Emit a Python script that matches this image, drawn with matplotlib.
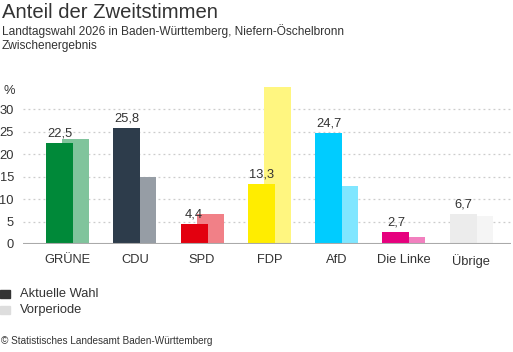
import matplotlib
matplotlib.use("Agg")
import matplotlib.pyplot as plt
from matplotlib.patches import Rectangle
import matplotlib.transforms as mtransforms

parties = ["GRÜNE", "CDU", "SPD", "FDP", "AfD", "Die Linke", "Übrige"]
current = [22.5, 25.8, 4.4, 13.3, 24.7, 2.7, 6.7]
previous = [23.3, 14.9, 6.7, 34.9, 12.9, 1.6, 6.3]
current_labels = ["22,5", "25,8", "4,4", "13,3", "24,7", "2,7", "6,7"]
cur_colors = ["#008939", "#2d3c4b", "#e3000f", "#ffed00", "#00ccff", "#e6007e", "#ececec"]
prev_colors = ["#80c49c", "#969da5", "#f18087", "#fff680", "#80e6ff", "#f280bf", "#f5f5f5"]
yticks = [0, 5, 10, 15, 20, 25, 30]

W, H = 513, 352
plt.rcParams['font.family'] = ['Liberation Sans', 'DejaVu Sans']
fig = plt.figure(figsize=(W / 100, H / 100), dpi=100)

def px(x0, y0, x1, y1):
    return [x0 / W, 1 - y1 / H, (x1 - x0) / W, (y1 - y0) / H]

ax = fig.add_axes(px(23, 84, 511, 244))
ax.set_xlim(-0.661, 6.59)
ax.set_ylim(0, 160 / 4.5)

bw = 0.401
off = 0.119
x = list(range(len(parties)))
ax.bar([i + off for i in x], previous, width=bw, color=prev_colors, zorder=2)
ax.bar([i - off for i in x], current, width=bw, color=cur_colors, zorder=3)
for i, (v, lab) in enumerate(zip(current, current_labels)):
    ax.text(i - off, v + 0.8, lab, ha="center", va="bottom", fontsize=9.3, color="#333333", zorder=4)

for t in yticks[1:]:
    ax.axhline(t, color="#cccccc", linestyle=(0, (1.5, 2.5)), linewidth=0.9, zorder=1)
ax.axhline(0, color="#aaaaaa", linewidth=1.5, zorder=4)

for s in ax.spines.values():
    s.set_visible(False)
ax.set_yticks(yticks)
ax.set_yticklabels([str(t) for t in yticks], fontsize=9.3, color="#333333")
ax.tick_params(axis="y", length=0)
ax.set_xticks(x)
ax.set_xticklabels(parties, fontsize=9.3, color="#333333")
ax.tick_params(axis="x", length=0, pad=7)
ytrans = mtransforms.blended_transform_factory(fig.transFigure, ax.transData)
for lbl in ax.get_yticklabels():
    lbl.set_transform(ytrans)
    lbl.set_horizontalalignment("right")
    lbl.set_x(14 / W)

fig.text(4 / W, 1 - 91 / H, "%", fontsize=9.3, color="#333333", va="center", ha="left")

fig.text(2 / W, 1 - 13 / H, "Anteil der Zweitstimmen", fontsize=14.6, color="#333333", va="center", ha="left")
fig.text(2 / W, 1 - 31 / H, "Landtagswahl 2026 in Baden-Württemberg, Niefern-Öschelbronn", fontsize=8.55, color="#333333", va="center", ha="left")
fig.text(2 / W, 1 - 46 / H, "Zwischenergebnis", fontsize=8.55, color="#333333", va="center", ha="left")

fig.patches.append(Rectangle((0, 1 - 298 / H), 10 / W, 8 / H, transform=fig.transFigure, color="#333333"))
fig.patches.append(Rectangle((0, 1 - 314 / H), 10 / W, 8 / H, transform=fig.transFigure, color="#dddddd"))
fig.text(20 / W, 1 - 294 / H, "Aktuelle Wahl", fontsize=9.3, color="#333333", va="center", ha="left")
fig.text(20 / W, 1 - 310 / H, "Vorperiode", fontsize=9.3, color="#333333", va="center", ha="left")
fig.text(1 / W, 1 - 341 / H, "© Statistisches Landesamt Baden-Württemberg", fontsize=7.2, color="#333333", va="center", ha="left")

fig.savefig("out.png", dpi=100)
